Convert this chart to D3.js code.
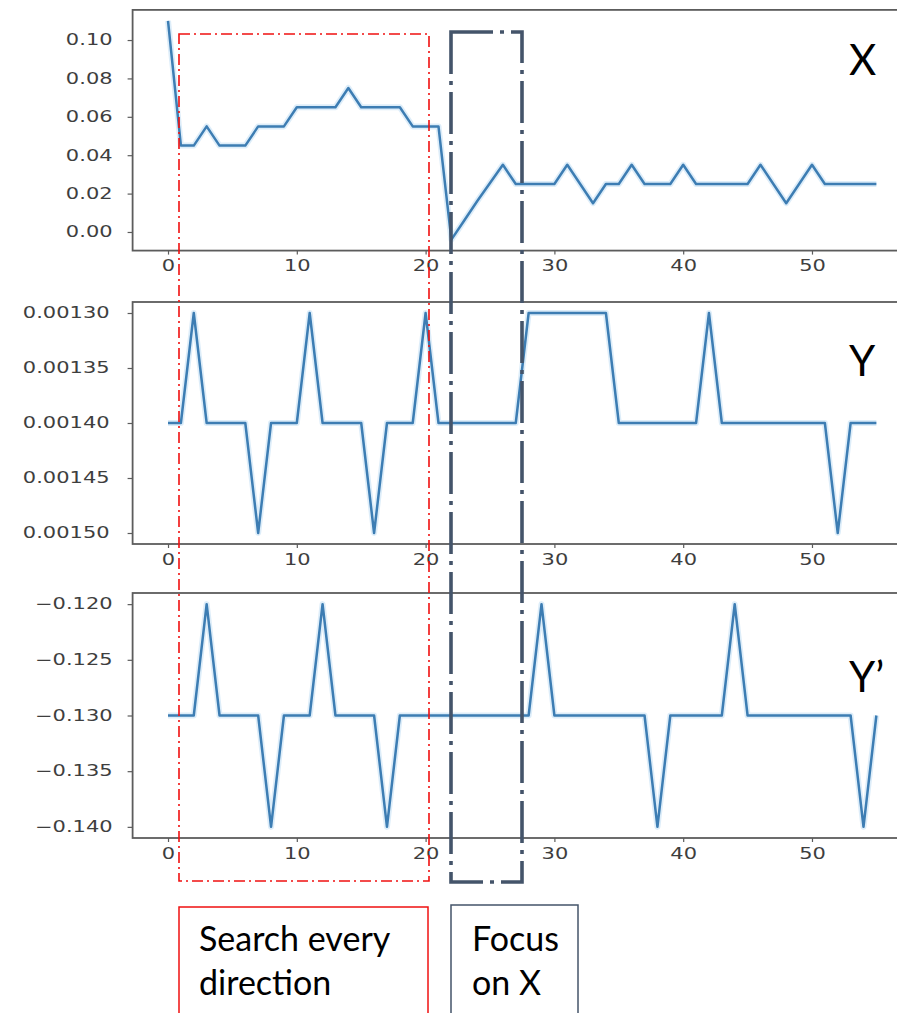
<!DOCTYPE html>
<html lang="en">
<head>
<meta charset="utf-8">
<title>search directions</title>
<script src="https://d3js.org/d3.v7.min.js"></script>
<style>
	body{ margin:0; background:#fff; }
	svg{ display:block; }
	.tick text{ font-family:"DejaVu Sans"; font-size:15px; fill:#3e3e3e; }
	.tag{ font-family:Lato, "Open Sans", sans-serif; fill:#000; }
</style>
</head>
<body>
<div id="chart"></div>
<script>
// step index for every panel
const steps = d3.range(0, 56);

// X panel
const xVals = [0.110, 0.045, 0.045, 0.055, 0.045, 0.045, 0.045, 0.055, 0.055, 0.055,
	0.065, 0.065, 0.065, 0.065, 0.075, 0.065, 0.065, 0.065, 0.065, 0.055,
	0.055, 0.055, -0.004, 0.006, 0.016, 0.0255, 0.035, 0.025, 0.025, 0.025,
	0.025, 0.035, 0.025, 0.015, 0.025, 0.025, 0.035, 0.025, 0.025, 0.025,
	0.035, 0.025, 0.025, 0.025, 0.025, 0.025, 0.035, 0.025, 0.015, 0.025,
	0.035, 0.025, 0.025, 0.025, 0.025, 0.025];
const xTicks = [0, 0.02, 0.04, 0.06, 0.08, 0.10];

// Y panel
const yVals = [-0.0014, -0.0014, -0.0013, -0.0014, -0.0014, -0.0014, -0.0014, -0.0015, -0.0014, -0.0014,
	-0.0014, -0.0013, -0.0014, -0.0014, -0.0014, -0.0014, -0.0015, -0.0014, -0.0014, -0.0014,
	-0.0013, -0.0014, -0.0014, -0.0014, -0.0014, -0.0014, -0.0014, -0.0014, -0.0013, -0.0013,
	-0.0013, -0.0013, -0.0013, -0.0013, -0.0013, -0.0014, -0.0014, -0.0014, -0.0014, -0.0014,
	-0.0014, -0.0014, -0.0013, -0.0014, -0.0014, -0.0014, -0.0014, -0.0014, -0.0014, -0.0014,
	-0.0014, -0.0014, -0.0015, -0.0014, -0.0014, -0.0014];
const yTicks = [-0.0013, -0.00135, -0.0014, -0.00145, -0.0015];

// Y' panel
const ypVals = [-0.13, -0.13, -0.13, -0.12, -0.13, -0.13, -0.13, -0.13, -0.14, -0.13,
	-0.13, -0.13, -0.12, -0.13, -0.13, -0.13, -0.13, -0.14, -0.13, -0.13,
	-0.13, -0.13, -0.13, -0.13, -0.13, -0.13, -0.13, -0.13, -0.13, -0.12,
	-0.13, -0.13, -0.13, -0.13, -0.13, -0.13, -0.13, -0.13, -0.14, -0.13,
	-0.13, -0.13, -0.13, -0.13, -0.12, -0.13, -0.13, -0.13, -0.13, -0.13,
	-0.13, -0.13, -0.13, -0.13, -0.14, -0.13];
const ypTicks = [-0.12, -0.125, -0.13, -0.135, -0.14];

const stepTicks = [0, 10, 20, 30, 40, 50];

const W = 897, H = 1013;
const svg = d3.select("#chart").append("svg").attr("width", W).attr("height", H);

// the screenshot was cut at the left, so clip there
svg.append("clipPath").attr("id", "cut")
	.append("rect").attr("x", 22).attr("y", 0).attr("width", W).attr("height", H);
const root = svg.append("g").attr("clip-path", "url(#cut)");

const x = d3.scaleLinear().domain([-2.75, 57.75]).range([132.6, 911.8]);
const sx = 1.4; // stretched tick labels

const panels = [
	{ vals: xVals, ticks: xTicks, fmt: d3.format(".2f"), domain: [-0.0097, 0.1157], range: [250.6, 9.9], pad: 20, tag: "X", tagX: 849, tagY: 75 },
	{ vals: yVals, ticks: yTicks, fmt: d3.format(".5f"), domain: [-0.00151, -0.00129], range: [544, 302], pad: 23, tag: "Y", tagX: 849, tagY: 376 },
	{ vals: ypVals, ticks: ypTicks, fmt: d3.format(".3f"), domain: [-0.141, -0.119], range: [838, 593], pad: 20, tag: "Y\u2019", tagX: 849, tagY: 692 }
];

panels.forEach(p => {
	const y = d3.scaleLinear().domain(p.domain).range(p.range);
	const g = root.append("g");

	const line = d3.line().x((d, i) => x(steps[i])).y(d => y(d));
	g.append("path").datum(p.vals).attr("d", line)
		.attr("fill", "none").attr("stroke", "#cfe5f6").attr("stroke-width", 6)
		.attr("stroke-linejoin", "round").attr("opacity", 0.7);
	g.append("path").datum(p.vals).attr("d", line)
		.attr("fill", "none").attr("stroke", "#3d7db3").attr("stroke-width", 2.5)
		.attr("stroke-linejoin", "round");

	// frame
	g.append("rect")
		.attr("x", x.range()[0]).attr("y", p.range[1])
		.attr("width", x.range()[1] - x.range()[0]).attr("height", p.range[0] - p.range[1])
		.attr("fill", "none").attr("stroke", "#5c5c5c").attr("stroke-width", 1.8);

	const ya = g.append("g").attr("transform", "translate(" + x.range()[0] + ",0)")
		.call(d3.axisLeft(y).tickValues(p.ticks).tickFormat(p.fmt).tickSize(5).tickPadding(0));
	ya.select(".domain").remove();
	ya.selectAll("line").attr("stroke", "#5c5c5c").attr("stroke-width", 1.2);
	ya.selectAll("text").attr("x", -p.pad / sx).attr("transform", "scale(" + sx + ",1)");

	const xa = g.append("g").attr("transform", "translate(0," + p.range[0] + ")")
		.call(d3.axisBottom(x).tickValues(stepTicks).tickSize(4).tickPadding(6));
	xa.select(".domain").remove();
	xa.selectAll("line").attr("stroke", "#5c5c5c").attr("stroke-width", 1.2);
	xa.selectAll("text").attr("transform", "scale(" + sx + ",1)");

	root.append("text").attr("class", "tag")
		.attr("x", p.tagX).attr("y", p.tagY)
		.style("font-size", "42px").text(p.tag);
});

// highlight boxes
root.append("rect").attr("x", 179).attr("y", 34).attr("width", 250).attr("height", 847)
	.attr("fill", "none").attr("stroke", "#f01010").attr("stroke-width", 1.6)
	.attr("stroke-dasharray", "11,4,2,4");
root.append("rect").attr("x", 451).attr("y", 32).attr("width", 71).attr("height", 850)
	.attr("fill", "none").attr("stroke", "#44546a").attr("stroke-width", 3.6)
	.attr("stroke-dasharray", "42,7,4,7");

// captions
root.append("rect").attr("x", 179).attr("y", 907).attr("width", 249).attr("height", 130)
	.attr("fill", "none").attr("stroke", "#f01010").attr("stroke-width", 1.5);
root.append("rect").attr("x", 451).attr("y", 905).attr("width", 127).attr("height", 130)
	.attr("fill", "none").attr("stroke", "#44546a").attr("stroke-width", 1.5);

const caps = [
	{ x: 199, lines: ["Search every", "direction"] },
	{ x: 472, lines: ["Focus", "on X"] }
];
caps.forEach(c => {
	c.lines.forEach((t, i) => {
		root.append("text").attr("class", "tag")
			.attr("x", c.x).attr("y", 951 + i * 44)
			.style("font-size", "34px").text(t);
	});
});
</script>
</body>
</html>
